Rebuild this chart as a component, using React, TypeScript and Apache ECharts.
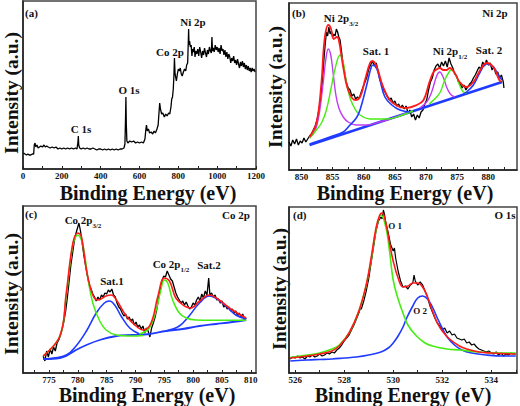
import React, { useEffect, useRef } from "react";
import * as echarts from "echarts";

// ---------- Tick labels ----------
const surveyTicks = [0, 200, 400, 600, 800, 1000, 1200];
const surveyMinor = [100, 300, 500, 700, 900, 1100];
const ni2pTicks = [850, 855, 860, 865, 870, 875, 880];
const ni2pMinor = [852.5, 857.5, 862.5, 867.5, 872.5, 877.5, 882.5];
const co2pTicks = [775, 780, 785, 790, 795, 800, 805, 810];
const co2pMinor = [772.5, 777.5, 782.5, 787.5, 792.5, 797.5, 802.5, 807.5];
const o1sTicks = [526, 528, 530, 532, 534];
const o1sMinor = [527, 529, 531, 533, 535];

// ---------- (a) survey: [binding energy eV, intensity a.u.] ----------
const surveyData = [
  [3,16],[10,15],[18,14],[25,15],[32,14],[40,14],[48,15],[55,15],
  [58,24],[62,26],[66,22],[72,24],[78,21],[85,22],[92,23],[100,22],[108,24],[115,22],[122,23],[130,22],[140,21],[150,22],[160,21],[170,22],[180,20],[190,21],[200,20],[210,21],[220,20],[230,21],[240,20],[250,21],[260,20],[270,21],[278,20],[283,27],[285,33],[287,24],[292,21],[300,20],[310,21],[320,20],[330,21],[340,20],[350,20],[360,21],[370,20],[380,19],[390,20],[400,20],[410,19],[420,20],[430,19],[440,20],[450,19],[460,20],[470,19],[480,20],[490,19],[500,20],[510,20],[520,21],[525,25],[528,50],[530,72],[532,45],[535,28],[540,26],[550,28],[560,27],[570,28],[580,26],[590,27],
  [600,26],[610,27],[620,26],[628,30],[633,40],[636,44],[640,38],[646,40],[652,36],[660,37],[668,35],[675,38],[682,36],[690,40],[696,44],[700,55],[704,66],[708,60],[714,55],[720,56],[728,52],[735,55],[742,53],[750,56],[756,55],[762,62],[766,70],[770,72],[774,80],[777,92],[780,111],[783,96],[786,92],[790,88],[795,95],[800,100],[805,98],[810,101],[815,95],[820,93],[826,97],[832,100],[838,98],[843,104],[848,106],[851,125],[853,140],[855,124],[858,128],[862,122],[866,124],[870,113],[874,120],[878,117],[882,122],[886,112],[890,118],[895,115],[900,120],[905,113],[910,122],[915,117],[920,111],[925,118],[930,114],[935,121],[940,116],[945,112],[950,119],[955,115],[960,122],[965,118],[970,116],[973,132],[976,118],[980,121],[985,117],[990,124],[995,119],[1000,122],[1005,117],[1010,121],[1015,115],[1020,124],[1025,118],[1030,120],[1035,114],[1040,119],[1045,112],[1050,117],[1055,110],[1060,115],[1065,112],[1070,106],[1075,111],[1080,108],[1085,113],[1090,106],[1095,109],[1100,104],[1105,110],[1110,105],[1115,101],[1120,107],[1125,103],[1130,108],[1135,102],[1140,106],[1145,100],[1150,104],[1155,99],[1160,103],[1165,98],[1170,101],[1175,97],[1180,101],[1185,98],[1190,100],[1195,97]
];

// ---------- (b) Ni 2p ----------
const ni2pRaw = [
  [848.0,28],[848.3,24],[848.6,30],[848.9,26],[849.2,31],[849.5,25],[849.8,29],[850.1,27],[850.4,32],[850.7,28],[851.0,31],[851.3,34],[851.6,36],[851.9,40],[852.2,44],[852.5,50],[852.8,60],[853.1,72],[853.4,92],[853.6,110],[853.8,125],[854.0,138],[854.2,134],[854.4,143],[854.6,136],[854.8,139],[855.0,133],[855.2,136],[855.4,134],[855.6,141],[855.8,138],[856.0,133],[856.2,130],[856.4,120],[856.7,105],[857.0,95],[857.2,88],[857.5,82],[857.8,80],[858.1,74],[858.4,76],[858.7,71],[859.0,73],[859.3,72],[859.6,78],[859.9,83],[860.2,88],[860.5,93],[860.8,101],[861.1,105],[861.4,109],[861.7,104],[862.0,107],[862.3,99],[862.6,90],[862.9,86],[863.2,80],[863.5,77],[863.8,73],[864.1,70],[864.4,72],[864.7,67],[865.0,69],[865.3,64],[865.6,66],[865.9,62],[866.2,65],[866.5,61],[866.8,64],[867.1,57],[867.4,60],[867.7,53],[868.0,56],[868.3,50],[868.6,55],[868.9,52],[869.2,58],[869.5,60],[869.8,66],[870.1,70],[870.4,80],[870.7,88],[871.0,92],[871.3,100],[871.6,104],[871.9,106],[872.2,102],[872.5,108],[872.8,104],[873.1,109],[873.4,103],[873.7,112],[874.0,106],[874.3,102],[874.6,96],[874.9,94],[875.2,88],[875.5,86],[875.8,82],[876.1,85],[876.4,80],[876.7,83],[877.0,86],[877.3,88],[877.6,92],[877.9,95],[878.2,99],[878.5,103],[878.8,101],[879.1,108],[879.4,104],[879.7,110],[880.0,105],[880.3,107],[880.6,100],[880.9,103],[881.2,96],[881.5,98],[881.8,92],[882.1,95],[882.4,88],[882.5,82]
];
const ni2pEnvelope = [
  [851.3,33],[852.4,47],[853.2,87],[853.7,130],[854.3,145],[854.7,142],[855.2,131],[855.7,133],[856.0,130],[856.7,103],[857.5,80],[858.6,70],[859.4,73],[860.2,90],[861.0,107],[861.4,109],[862.1,103],[863.0,85],[864.2,70],[865.8,63],[866.9,62],[868.5,65],[869.6,70],[870.5,87],[871.2,98],[871.8,101],[872.2,102],[872.8,100],[873.3,100],[873.8,102],[874.6,97],[875.4,88],[876.5,83],[877.6,88],[878.7,100],[879.7,107],[880.8,103],[881.6,92],[882.0,88]
];
const ni2pPeakA = [
  [851.3,32],[851.9,36],[852.4,43],[852.9,58],[853.5,88],[853.9,110],[854.3,121],[854.7,115],[855.1,96],[855.5,76],[856.0,62],[856.7,53],[857.5,48],[858.8,45],[860.5,45],[862.5,48],[864.7,52],[866.9,57]
];
const ni2pPeakB = [
  [851.3,32],[852.4,40],[853.3,48],[854.0,60],[854.7,80],[855.5,104],[856.2,115],[856.7,108],[857.2,88],[857.8,72],[858.6,61],[859.4,55],[861.0,51],[863.7,51],[865.8,54],[867.9,59]
];
const ni2pSat1 = [
  [851.3,26],[855.0,34],[856.7,38],[857.8,45],[858.8,52],[859.4,60],[860.4,83],[861.2,103],[861.5,105],[862.1,101],[862.6,90],[863.4,73],[864.5,65],[865.8,60],[867.4,58]
];
const ni2pPeakC = [
  [869.0,62],[870.1,68],[870.9,78],[871.7,94],[872.2,98],[872.8,92],[873.3,83],[873.9,76],[874.6,73]
];
const ni2pPeakD = [
  [870.5,66],[871.2,70],[872.2,77],[873.0,90],[873.8,99],[874.1,100],[874.9,93],[875.5,83],[876.0,78],[876.5,77]
];
const ni2pSat2 = [
  [875.4,74],[876.5,78],[877.6,85],[878.7,98],[879.7,106],[880.8,103],[881.6,95],[882.2,90]
];
const ni2pBackground = [[851.3,25],[882.2,88]];

// ---------- (c) Co 2p ----------
const co2pRaw = [
  [774.0,17],[774.3,12],[774.6,22],[774.9,16],[775.2,24],[775.5,19],[775.8,26],[776.1,22],[776.4,30],[776.7,33],[777.0,38],[777.3,44],[777.6,52],[777.9,62],[778.2,76],[778.5,92],[778.8,108],[779.1,120],[779.4,132],[779.7,140],[780.0,146],[780.2,150],[780.5,141],[780.8,128],[781.1,116],[781.4,106],[781.7,96],[782.0,88],[782.3,84],[782.6,79],[782.9,76],[783.2,72],[783.5,76],[783.8,73],[784.1,78],[784.4,76],[784.7,80],[785.0,79],[785.3,83],[785.6,81],[785.9,84],[786.2,78],[786.5,76],[786.8,70],[787.1,66],[787.4,64],[787.7,60],[788.0,57],[788.3,59],[788.6,54],[788.9,56],[789.2,52],[789.5,54],[789.8,48],[790.1,51],[790.4,46],[790.7,48],[791.0,44],[791.3,47],[791.6,40],[791.9,45],[792.2,42],[792.5,36],[792.8,45],[793.1,50],[793.4,56],[793.7,64],[794.0,74],[794.3,84],[794.6,92],[794.9,97],[795.2,96],[795.5,102],[795.8,98],[796.1,94],[796.4,92],[796.7,86],[797.0,80],[797.3,76],[797.6,73],[797.9,70],[798.2,72],[798.5,68],[798.8,71],[799.1,67],[799.4,64],[799.7,66],[800.0,70],[800.3,68],[800.6,73],[800.9,76],[801.2,72],[801.5,79],[801.8,75],[802.1,82],[802.4,78],[802.7,95],[802.9,78],[803.2,80],[803.5,76],[803.8,78],[804.1,73],[804.4,74],[804.7,70],[805.0,72],[805.3,66],[805.6,68],[805.9,64],[806.2,66],[806.5,62],[806.8,64],[807.1,60],[807.4,62],[807.7,57],[808.0,60],[808.3,56],[808.6,59],[808.9,53],[809.2,55]
];
const co2pEnvelope = [
  [774.0,17],[776.9,37],[778.0,80],[779.15,130],[780.0,140],[780.6,137],[781.5,103],[782.6,78],[783.5,73],[784.9,77],[785.8,78],[786.7,73],[788.4,57],[790.1,47],[791.3,43],[792.7,50],[793.9,77],[795.0,95],[795.9,92],[797.0,75],[798.5,67],[799.6,65],[801.1,72],[802.8,78],[804.5,73],[806.8,63],[809.2,55]
];
const co2pPeak32 = [
  [774.0,17],[776.9,37],[778.0,77],[779.15,128],[780.0,138],[780.9,127],[781.8,93],[782.6,70],[783.8,52],[784.9,43],[786.7,38],[789.5,37],[791.3,37.5]
];
const co2pSat1 = [
  [774.55,14],[778.0,18],[779.7,27],[781.5,42],[783.2,60],[784.6,70],[785.5,72],[786.4,68],[787.5,57],[789.0,45],[790.7,39]
];
const co2pPeak12 = [
  [790.7,39],[792.4,45],[793.6,63],[794.4,83],[795.0,93],[795.6,90],[796.45,73],[797.6,60],[798.8,55],[800.5,53],[803.4,52.7],[809.2,52.7]
];
const co2pSat2 = [
  [795.3,42],[797.6,47],[799.3,57],[801.1,70],[802.8,77],[803.9,75],[805.7,67],[807.4,58],[809.2,54]
];
const co2pBackground = [
  [774.0,14],[776.9,15],[778.0,17],[779.7,23],[781.5,28],[783.8,33],[786.7,37],[789.5,38],[792.4,39],[795.3,42],[798.2,44],[801.1,47],[804.0,49],[806.8,51],[809.2,53]
];

// ---------- (d) O 1s ----------
const o1sRaw = [
  [525.8,14],[525.9,16],[526.0,15],[526.1,17],[526.2,15],[526.3,16],[526.4,14],[526.5,17],[526.6,16],[526.7,18],[526.8,16],[526.9,17],[527.0,19],[527.1,17],[527.2,18],[527.3,20],[527.4,19],[527.5,21],[527.6,20],[527.7,23],[527.8,25],[527.9,28],[528.0,32],[528.1,35],[528.2,38],[528.3,43],[528.4,48],[528.5,54],[528.6,60],[528.65,64],[528.7,64],[528.8,72],[528.9,82],[529.0,94],[529.1,110],[529.2,126],[529.3,142],[529.4,152],[529.5,156],[529.55,154],[529.6,163],[529.65,158],[529.7,150],[529.8,140],[529.9,128],[530.0,122],[530.05,125],[530.1,115],[530.2,102],[530.3,92],[530.4,86],[530.5,87],[530.6,84],[530.7,88],[530.8,90],[530.85,98],[530.9,92],[531.0,88],[531.1,91],[531.2,88],[531.3,82],[531.4,76],[531.5,67],[531.6,61],[531.7,55],[531.8,50],[531.9,47],[532.0,43],[532.1,45],[532.2,40],[532.3,42],[532.4,38],[532.5,39],[532.6,35],[532.7,34],[532.8,33],[532.9,34],[533.0,30],[533.1,31],[533.2,28],[533.3,29],[533.4,26],[533.5,24],[533.6,23],[533.7,22],[533.8,21],[533.9,22],[534.0,20],[534.1,19],[534.2,21],[534.3,18],[534.4,20],[534.5,17],[534.6,19],[534.7,18],[534.8,20],[534.9,19],[535.0,19]
];
const o1sEnvelope = [
  [525.8,15],[526.5,17],[527.0,19],[527.5,22],[527.8,27],[528.2,40],[528.6,62],[528.9,88],[529.1,115],[529.3,145],[529.45,158],[529.55,160],[529.7,150],[529.85,130],[530.0,112],[530.2,95],[530.4,86],[530.6,87],[530.8,90],[531.0,90],[531.2,86],[531.4,76],[531.6,62],[531.8,50],[532.0,42],[532.3,34],[532.7,27],[533.0,24],[533.5,21],[534.0,20],[535.0,19]
];
const o1sPeak1 = [
  [525.8,15.5],[526.5,18],[527.0,20],[527.5,24],[527.8,28],[528.2,40],[528.6,62],[528.9,88],[529.1,113],[529.3,143],[529.5,158],[529.7,146],[529.85,122],[530.0,93],[530.2,74],[530.4,60],[530.6,48],[530.95,37],[531.3,30],[531.6,27],[532.2,24],[532.7,23],[533.5,21],[534.5,20],[535.0,20]
];
const o1sPeak2 = [
  [525.8,12],[526.5,13],[527.0,13.5],[527.5,14],[528.0,15],[528.5,16],[529.0,18],[529.5,21],[529.8,25],[530.0,30],[530.2,37],[530.4,46],[530.55,55],[530.8,67],[531.0,75],[531.2,77],[531.4,74],[531.6,66],[531.8,55],[532.0,45],[532.2,36],[532.5,28],[532.8,23],[533.2,20],[533.8,18],[534.5,17],[535.0,17]
];

// ---------- styling ----------
const FONT = "Liberation Serif, Times New Roman, serif";
const BLACK = "#000000";
const RED = "#ff1a1a";
const GREEN = "#44ee11";
const BLUE = "#1f3bff";
const PURPLE = "#c03cf0";

function makeXAxis(gridIndex: number, min: number, max: number, ticks: number[], minor: number[]) {
  return {
    type: "value",
    gridIndex,
    min,
    max,
    axisLine: { show: true, onZero: false, lineStyle: { color: "#222", width: 1.5 } },
    axisTick: { show: true, inside: true, length: 3, customValues: [...ticks, ...minor], lineStyle: { color: "#222" } },
    axisLabel: {
      show: true,
      customValues: ticks,
      margin: 2,
      fontFamily: FONT,
      fontWeight: "bold",
      fontSize: 9,
      color: "#111",
      hideOverlap: false,
      formatter: (v: number) => String(v),
    },
    splitLine: { show: false },
  };
}
function makeYAxis(gridIndex: number, max: number) {
  return {
    type: "value",
    gridIndex,
    min: 0,
    max,
    axisLine: { show: true, lineStyle: { color: "#222", width: 1.5 } },
    axisTick: { show: false },
    axisLabel: { show: false },
    splitLine: { show: false },
  };
}
function line(data: number[][], idx: number, color: string, width: number, smooth: boolean | number, z = 2) {
  return {
    type: "line",
    data,
    xAxisIndex: idx,
    yAxisIndex: idx,
    showSymbol: false,
    symbol: "none",
    smooth,
    z,
    lineStyle: { color, width },
    silent: true,
  };
}
function txt(text: string, x: number, y: number, size = 11, align = "center", rich?: any) {
  return {
    type: "text",
    x,
    y,
    silent: true,
    style: {
      text,
      fontFamily: FONT,
      fontWeight: "bold",
      fontSize: size,
      fill: "#111",
      align,
      verticalAlign: "middle",
      rich,
    },
  };
}
const subRich = {
  m: { fontFamily: FONT, fontWeight: "bold", fontSize: 11, fill: "#111", padding: [0, 0, 4, 0] },
  s: { fontFamily: FONT, fontWeight: "bold", fontSize: 7, fill: "#111", verticalAlign: "bottom" },
};
function yName(x: number, y: number) {
  return {
    type: "text",
    x,
    y,
    rotation: Math.PI / 2,
    silent: true,
    style: { text: "Intensity (a.u.)", fontFamily: FONT, fontWeight: "bold", fontSize: 19.5, fill: "#111", align: "center", verticalAlign: "middle" },
  };
}
function xName(x: number, y: number) {
  return txt("Binding Energy (eV)", x, y, 20);
}

export default function App() {
  const ref = useRef<HTMLDivElement>(null);
  useEffect(() => {
    const chart = echarts.init(ref.current!, null, { renderer: "svg" });
    const gridStyle = { show: true, borderColor: "#444", borderWidth: 1.5, containLabel: false };
    const option: any = {
      animation: false,
      backgroundColor: "#ffffff",
      grid: [
        { ...gridStyle, left: 23, top: 1, width: 233, height: 168 },
        { ...gridStyle, left: 289, top: 3, width: 228, height: 167 },
        { ...gridStyle, left: 23, top: 206, width: 233, height: 167 },
        { ...gridStyle, left: 289, top: 207, width: 228, height: 166 },
      ],
      xAxis: [
        makeXAxis(0, 0, 1200, surveyTicks, surveyMinor),
        makeXAxis(1, 848, 884.6, ni2pTicks, ni2pMinor),
        makeXAxis(2, 770.5, 810.9, co2pTicks, co2pMinor),
        makeXAxis(3, 525.75, 535.05, o1sTicks, o1sMinor),
      ],
      yAxis: [makeYAxis(0, 168), makeYAxis(1, 167), makeYAxis(2, 167), makeYAxis(3, 166)],
      series: [
        line(surveyData, 0, BLACK, 1.3, false),

        line(ni2pRaw, 1, BLACK, 1.3, false),
        line(ni2pBackground, 1, BLUE, 2.4, false, 3),
        line(ni2pPeakA, 1, PURPLE, 1.4, 0.4, 3),
        line(ni2pPeakB, 1, GREEN, 1.4, 0.4, 3),
        line(ni2pSat1, 1, BLUE, 1.6, 0.4, 3),
        line(ni2pPeakC, 1, PURPLE, 1.4, 0.4, 3),
        line(ni2pPeakD, 1, GREEN, 1.4, 0.4, 3),
        line(ni2pSat2, 1, BLUE, 1.6, 0.4, 3),
        line(ni2pEnvelope, 1, RED, 1.8, 0.4, 4),

        line(co2pRaw, 2, BLACK, 1.3, false),
        line(co2pBackground, 2, BLUE, 1.8, 0.4, 3),
        line(co2pSat1, 2, BLUE, 1.6, 0.4, 3),
        line(co2pSat2, 2, BLUE, 1.6, 0.4, 3),
        line(co2pPeak32, 2, GREEN, 1.5, 0.4, 3),
        line(co2pPeak12, 2, GREEN, 1.5, 0.4, 3),
        line(co2pEnvelope, 2, RED, 1.6, 0.4, 4),

        line(o1sRaw, 3, BLACK, 1.2, false),
        line(o1sPeak2, 3, BLUE, 1.6, 0.4, 3),
        line(o1sPeak1, 3, GREEN, 1.6, 0.4, 3),
        line(o1sEnvelope, 3, RED, 1.6, 0.4, 4),
      ],
      graphic: [
        // panel a
        txt("(a)", 25, 13, 11, "left"),
        txt("Ni 2p", 193, 22),
        txt("Co 2p", 170, 52),
        txt("O 1s", 129, 90),
        txt("C 1s", 81, 129),
        yName(11, 93),
        xName(148, 193),
        // panel b
        txt("(b)", 292, 13, 11, "left"),
        txt("Ni 2p", 495, 13),
        txt("{m|Ni 2p}{s|3/2}", 341, 20, 11, "center", subRich),
        txt("Sat. 1", 376, 51),
        txt("{m|Ni 2p}{s|1/2}", 450, 53, 11, "center", subRich),
        txt("Sat. 2", 489, 50),
        yName(275, 87),
        xName(405, 193),
        // panel c
        txt("(c)", 25, 214, 11, "left"),
        txt("Co 2p", 236, 215),
        txt("{m|Co 2p}{s|3/2}", 83, 222, 11, "center", subRich),
        txt("Sat.1", 112, 281),
        txt("{m|Co 2p}{s|1/2}", 171, 266, 11, "center", subRich),
        txt("Sat.2", 209, 265),
        yName(11, 294),
        xName(147, 395),
        // panel d
        txt("(d)", 293, 215, 11, "left"),
        txt("O 1s", 505, 215),
        txt("O 1", 395, 226, 9),
        txt("O 2", 420, 311, 9),
        yName(279, 289),
        xName(403, 395),
      ],
    };
    chart.setOption(option);
    return () => chart.dispose();
  }, []);
  return <div ref={ref} style={{ position: "absolute", left: 0, top: 0, width: 520, height: 406 }} />;
}
